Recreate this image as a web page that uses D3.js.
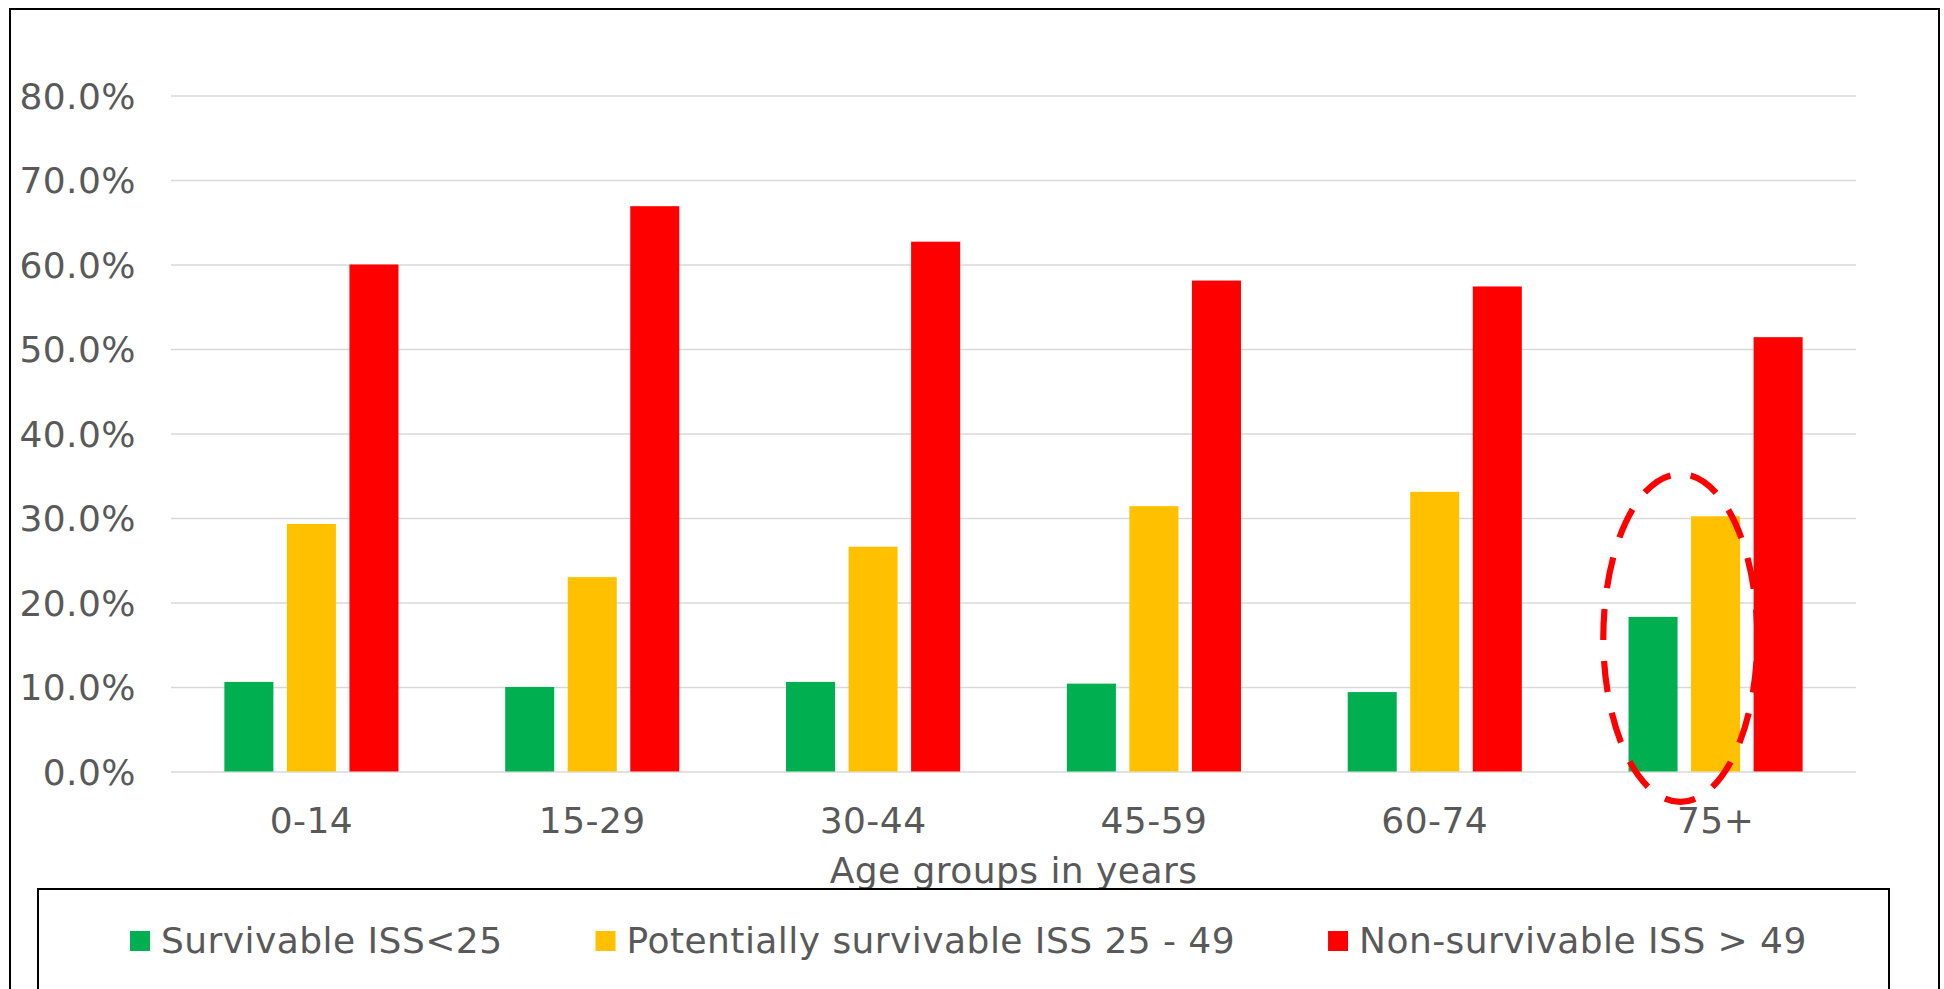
<!DOCTYPE html>
<html>
<head>
<meta charset="utf-8">
<script src="https://cdn.jsdelivr.net/npm/d3@7"></script>
<style>
  html, body { margin: 0; padding: 0; background: #ffffff; overflow: hidden; }
  svg { display: block; font-family: "DejaVu Sans", Verdana, sans-serif; }
  svg text { letter-spacing: 0.45px; }
</style>
</head>
<body>
<svg id="chart" width="1944" height="989"></svg>
<script>
// Age groups on the x axis
const categories = ["0-14", "15-29", "30-44", "45-59", "60-74", "75+"];

// Share of cases per ISS class, in percent
const survivable    = [10.6, 10.0, 10.6, 10.4, 9.4, 18.3];
const potentially   = [29.3, 23.0, 26.6, 31.4, 33.1, 30.2];
const nonSurvivable = [60.0, 66.9, 62.7, 58.1, 57.4, 51.4];

const seriesNames  = ["Survivable ISS<25", "Potentially survivable ISS 25 - 49", "Non-survivable ISS > 49"];
const seriesColors = ["#00b050", "#ffc000", "#ff0000"];
const yTicks = [0, 10, 20, 30, 40, 50, 60, 70, 80];
const xTitle = "Age groups in years";

// Highlighted group and the value span the dashed ring encloses
const highlightGroup = "75+";
const highlightSpan = [-3.6, 35.2];

const seriesValues = [survivable, potentially, nonSurvivable];
const rows = categories.map((c, i) => ({
  category: c,
  values: seriesNames.map((s, k) => ({ key: s, value: seriesValues[k][i], color: seriesColors[k] }))
}));

const svg = d3.select("#chart");
const plot = { left: 171, right: 1856, top: 95.5, bottom: 771.5 };
const textColor = "#595959";
const fontSize = 36;

// Outer chart frame (runs past the bottom edge)
svg.append("rect")
  .attr("x", 10).attr("y", 9)
  .attr("width", 1929).attr("height", 1100)
  .attr("fill", "#fff").attr("stroke", "#000").attr("stroke-width", 2);

const x0 = d3.scaleBand().domain(categories).range([plot.left, plot.right]).paddingInner(0).paddingOuter(0);
const groupWidth = x0.bandwidth() * 0.62;
const x1 = d3.scaleBand().domain(seriesNames).range([0, groupWidth]).paddingInner(0.216).paddingOuter(0);
const y = d3.scaleLinear().domain([0, 80]).range([plot.bottom, plot.top]);

// Y axis with horizontal gridlines
const yAxis = svg.append("g")
  .attr("transform", `translate(${plot.left},0)`)
  .call(d3.axisLeft(y).tickValues(yTicks).tickSize(-(plot.right - plot.left)).tickPadding(35)
    .tickFormat(d => d.toFixed(1) + "%"));
yAxis.select(".domain").remove();
yAxis.selectAll(".tick line").attr("stroke", "#d9d9d9").attr("stroke-width", 1.5);
yAxis.selectAll(".tick text")
  .attr("fill", textColor).attr("font-size", fontSize)
  .attr("font-family", "DejaVu Sans, Verdana, sans-serif")
  .attr("dy", "0.36em");

// X axis labels
const xAxis = svg.append("g")
  .attr("transform", `translate(0,${plot.bottom})`)
  .call(d3.axisBottom(x0).tickSize(0).tickPadding(36));
xAxis.select(".domain").remove();
xAxis.selectAll(".tick text")
  .attr("fill", textColor).attr("font-size", fontSize)
  .attr("font-family", "DejaVu Sans, Verdana, sans-serif");

// Grouped bars
const groups = svg.append("g").selectAll("g")
  .data(rows).join("g")
  .attr("transform", d => `translate(${x0(d.category) + (x0.bandwidth() - groupWidth) / 2},0)`);
groups.selectAll("rect")
  .data(d => d.values).join("rect")
  .attr("x", d => x1(d.key))
  .attr("y", d => y(d.value))
  .attr("width", x1.bandwidth())
  .attr("height", d => y(0) - y(d.value))
  .attr("fill", d => d.color);

// Axis title
svg.append("text")
  .attr("x", (plot.left + plot.right) / 2).attr("y", 883)
  .attr("text-anchor", "middle")
  .attr("fill", textColor).attr("font-size", fontSize)
  .text(xTitle);

// Dashed ring around the first two bars of the highlighted group
const hgX = x0(highlightGroup) + (x0.bandwidth() - groupWidth) / 2;
const ringCx = hgX + (x1(seriesNames[0]) + x1(seriesNames[1]) + x1.bandwidth()) / 2 - 4;
const ringTop = y(highlightSpan[1]), ringBottom = y(highlightSpan[0]);
const ringCy = (ringTop + ringBottom) / 2;
const ringRy = (ringBottom - ringTop) / 2;
const ringRx = 77;
const ring = svg.append("path")
  .attr("d", `M${ringCx},${ringCy - ringRy} A${ringRx},${ringRy} 0 1 1 ${ringCx},${ringCy + ringRy} A${ringRx},${ringRy} 0 1 1 ${ringCx},${ringCy - ringRy}`)
  .attr("fill", "none").attr("stroke", "#ff0000").attr("stroke-width", 6.2);
const ringLen = ring.node().getTotalLength();
const nDash = Math.round(ringLen / 52);
const period = ringLen / nDash;
const dash = period * 31 / 52;
ring.attr("stroke-dasharray", `${dash},${period - dash}`)
  .attr("stroke-dashoffset", dash + (period - dash) / 2);

// Legend box (runs past the bottom edge)
svg.append("rect")
  .attr("x", 38).attr("y", 889)
  .attr("width", 1851).attr("height", 200)
  .attr("fill", "#fff").attr("stroke", "#000").attr("stroke-width", 2);

const legend = svg.append("g");
let lx = 130;
seriesNames.forEach((name, k) => {
  legend.append("rect")
    .attr("x", lx).attr("y", 931).attr("width", 20).attr("height", 20)
    .attr("fill", seriesColors[k]);
  const t = legend.append("text")
    .attr("x", lx + 31).attr("y", 953)
    .attr("fill", textColor).attr("font-size", fontSize)
    .text(name);
  lx += 31 + t.node().getComputedTextLength() + 93;
});
</script>
</body>
</html>
